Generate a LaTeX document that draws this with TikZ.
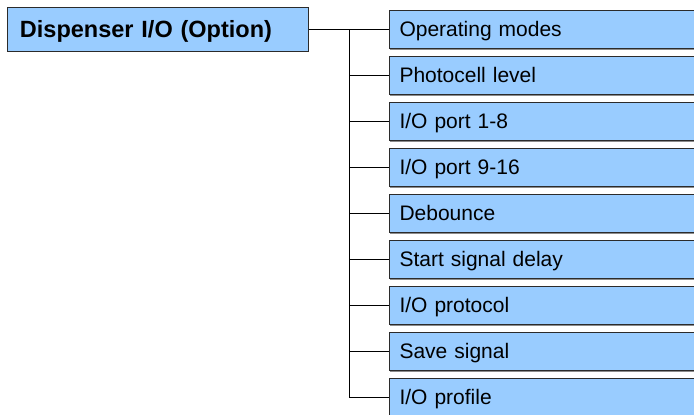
\documentclass[tikz,border=0pt]{standalone}
\usepackage{fontspec}
\setmainfont{Liberation Sans}
\usetikzlibrary{positioning,shadows}
\definecolor{menublue}{HTML}{99CCFF}
\definecolor{menuedge}{HTML}{2B2B2B}
\tikzset{
    box/.style={draw=menuedge, fill=menublue, line width=1bp,
                inner sep=0pt, text depth=0pt},
    rootbox/.style={box, minimum width=300bp, minimum height=44bp,
                    drop shadow={shadow xshift=0.8bp, shadow yshift=-1.2bp,
                                 fill=black!45, opacity=1},
                    font=\fontsize{23.5bp}{28bp}\selectfont\bfseries,
                    align=left, text width=276bp},
    itembox/.style={box, anchor=west, minimum width=400bp,
                    minimum height=38bp,
                    font=\fontsize{21bp}{25bp}\selectfont,
                    align=left, text width=380bp},
    shade line/.style={line width=1bp, black!45},
    link/.style={line width=1bp, black},
}

\begin{document}
\begin{tikzpicture}[x=1bp, y=-1bp]
    \path[use as bounding box] (0,0) rectangle (694,414);

    \node[rootbox] (root) at (158,29) {Dispenser I/O (Option)};

    \foreach \i/\txt in {1/{Operating modes}, 2/{Photocell level},
        3/{I/O port 1-8}, 4/{I/O port 9-16}, 5/{Debounce},
        6/{Start signal delay}, 7/{I/O protocol}, 8/{Save signal},
        9/{I/O profile}} {
        \node[itembox] (item\i) at (389,{29+46*(\i-1)}) {\txt};
        \draw[shade line] ([shift={(1bp,-1.2bp)}]item\i.south west)
            -- ([yshift=-1.2bp]item\i.south east);
    }

    % trunk and branches
    \coordinate (trunk) at (349,29);
    \draw[link] (root.east) -- (item1.west);
    \draw[link] (trunk) -- (trunk |- item9.west);
    \foreach \i in {2,...,9}
        \draw[link] (trunk |- item\i.west) -- (item\i.west);
\end{tikzpicture}
\end{document}
